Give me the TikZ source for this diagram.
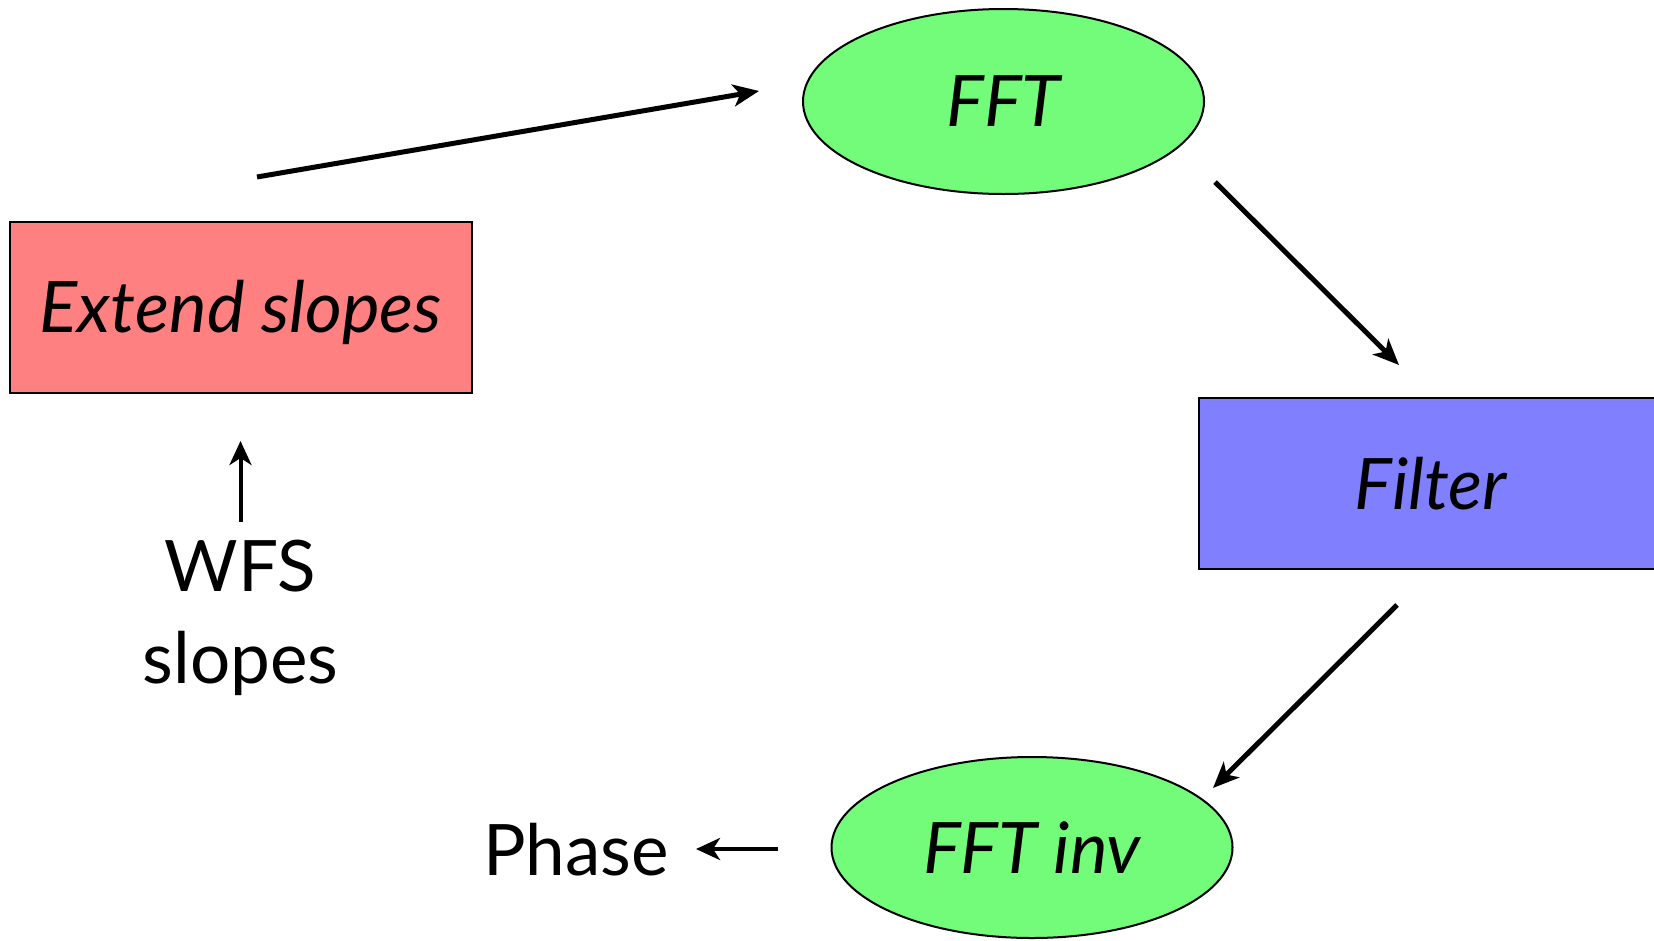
\documentclass[tikz,border=0pt]{standalone}
\usepackage{fontspec}
\setmainfont{Lato}
\usetikzlibrary{arrows.meta,shapes.geometric}
\definecolor{boxred}{RGB}{255,128,128}
\definecolor{boxblue}{RGB}{128,128,255}
\definecolor{ellgreen}{RGB}{115,251,122}
\tikzset{
  flowbox/.style={draw=black, line width=2pt, rectangle, minimum width=462pt, minimum height=171pt, inner sep=0pt, font=\fontsize{71}{86}\selectfont\itshape},
  flowell/.style={draw=black, line width=2pt, ellipse, inner sep=0pt, fill=ellgreen, font=\fontsize{71}{86}\selectfont\itshape},
  plain/.style={font=\fontsize{71}{92}\selectfont, align=center, inner sep=0pt},
  bigarrow/.style={line width=5pt, -{Stealth[length=26pt,width=22pt,inset=7pt]}},
  smallarrow/.style={line width=4pt, -{Stealth[length=24pt,width=22pt,inset=7pt]}}
}
\begin{document}
\begin{tikzpicture}[x=1pt,y=-1pt]
\useasboundingbox (0,0) rectangle (1654,940);
\clip (0,0) rectangle (1654,940);
\node[flowbox, fill=boxred] (ext) at (241,307.5) {\raisebox{-5pt}[\height][\depth]{Extend slopes}};
\node[flowbox, fill=boxblue, minimum width=464pt] (filt) at (1431,483.5) {Filter};
\node[flowell, minimum width=401pt, minimum height=185pt] (fft) at (1003.5,101.5) {FFT};
\node[flowell, minimum width=401pt, minimum height=181pt] (ifft) at (1032,847.5) {FFT inv};
\node[plain] (wfs) at (240.5,618) {WFS\\slopes};
\node[plain, anchor=center] (phase) at (576,850) {Phase};
\coordinate (a1s) at (257,177);
\coordinate (a1e) at (759,91);
\coordinate (a2s) at (1215,182);
\coordinate (a2e) at (1399,365);
\coordinate (a3s) at (1397,605);
\coordinate (a3e) at (1213,788);
\coordinate (a4s) at (778,849);
\coordinate (a4e) at (696,849);
\coordinate (a5s) at (240.5,522);
\coordinate (a5e) at (240.5,441);
\draw[bigarrow] (a1s) -- (a1e);
\draw[bigarrow] (a2s) -- (a2e);
\draw[bigarrow] (a3s) -- (a3e);
\draw[smallarrow] (a4s) -- (a4e);
\draw[smallarrow] (a5s) -- (a5e);
\end{tikzpicture}
\end{document}
